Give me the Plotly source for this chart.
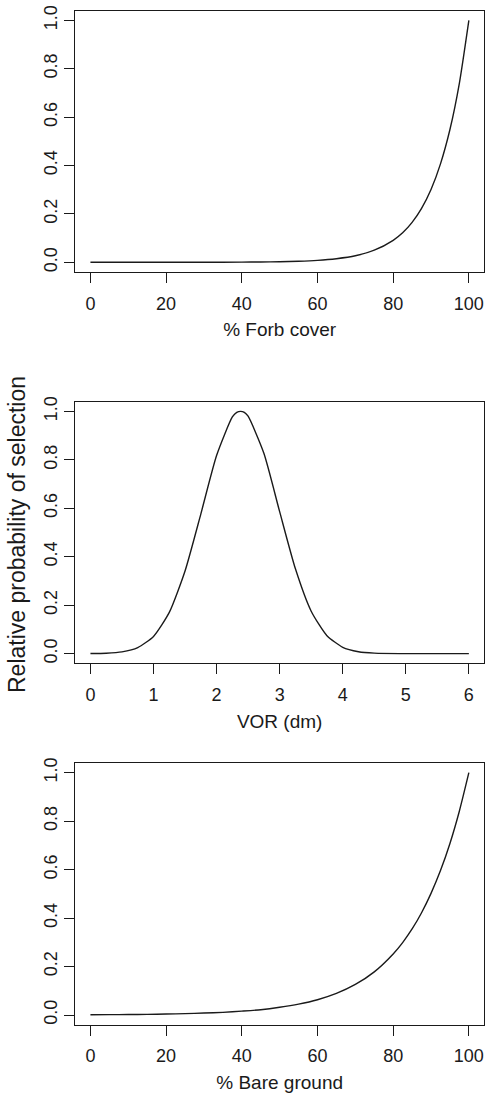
import plotly.graph_objects as go

# values
forb_x = [0, 10, 20, 30, 40, 45, 50, 55, 60, 65, 70, 75, 80, 82.5, 85, 87.5, 90, 92.5, 95, 97.5, 100]
forb_y = [0.0, 0.0, 0.0001, 0.0002, 0.0008, 0.0014, 0.0025, 0.0045, 0.0082, 0.015, 0.027,
          0.050, 0.091, 0.122, 0.165, 0.223, 0.301, 0.407, 0.549, 0.741, 1.0]

vor_x = [0, 0.25, 0.5, 0.75, 1.0, 1.25, 1.5, 1.75, 2.0, 2.25, 2.32, 2.38, 2.44, 2.5, 2.75,
         3.0, 3.25, 3.5, 3.75, 4.0, 4.25, 4.5, 5.0, 5.5, 6.0]
vor_y = [0.0004, 0.0018, 0.0074, 0.025, 0.071, 0.170, 0.341, 0.576, 0.818, 0.977, 0.996, 1.0,
         0.996, 0.980, 0.827, 0.586, 0.350, 0.175, 0.074, 0.026, 0.0078, 0.002, 0.0, 0.0, 0.0]

bare_x = [0, 5, 10, 15, 20, 25, 30, 35, 40, 45, 50, 55, 60, 65, 70, 75, 80, 82.5, 85, 87.5,
          90, 92.5, 95, 97.5, 100]
bare_y = [0.001, 0.0014, 0.002, 0.0028, 0.004, 0.0057, 0.008, 0.011, 0.016, 0.022, 0.032,
          0.045, 0.063, 0.089, 0.126, 0.178, 0.252, 0.299, 0.355, 0.422, 0.502, 0.596, 0.708,
          0.842, 1.0]

x_titles = ['% Forb cover', 'VOR (dm)', '% Bare ground']
y_title = 'Relative probability of selection'
y_ticks = [0.0, 0.2, 0.4, 0.6, 0.8, 1.0]

W, H = 487, 1094
FONT = 'Liberation Sans, Arial, Helvetica, sans-serif'
INK = '#1a1a1a'

# pixel boxes of the three plotting regions (top, bottom)
panels = [(10.7, 272.0), (401.7, 663.3), (763.0, 1024.7)]
x_left, x_right = 75.3, 484.0

fig = go.Figure()

series = [(forb_x, forb_y), (vor_x, vor_y), (bare_x, bare_y)]
x_setup = [
  dict(range=[-4, 104], tickvals=[0, 20, 40, 60, 80, 100]),
  dict(range=[-0.24, 6.24], tickvals=[0, 1, 2, 3, 4, 5, 6]),
  dict(range=[-4, 104], tickvals=[0, 20, 40, 60, 80, 100]),
]

for i, (xs, ys) in enumerate(series):
  n = '' if i == 0 else str(i + 1)
  fig.add_trace(go.Scatter(
    x=xs, y=ys, mode='lines',
    line=dict(color=INK, width=1.4, shape='spline', smoothing=0.6),
    xaxis='x' + n, yaxis='y' + n,
    showlegend=False, hoverinfo='skip'
  ))

  top, bottom = panels[i]
  common = dict(
    showline=True, mirror=True, linecolor=INK, linewidth=1,
    showgrid=False, zeroline=False, automargin=False,
    ticks='outside', ticklen=10, tickwidth=1, tickcolor=INK,
    tickfont=dict(family=FONT, size=18, color=INK),
  )
  fig.update_layout({
    'xaxis' + n: dict(
      **common, **x_setup[i],
      domain=[x_left / W, x_right / W],
      anchor='y' + n,
      ticklabelstandoff=5,
      title=dict(text=x_titles[i], standoff=10,
                 font=dict(family=FONT, size=19, color=INK)),
    ),
    'yaxis' + n: dict(
      **common,
      range=[-0.04, 1.04], tickvals=y_ticks, tickformat='.1f',
      tickangle=-90,
      domain=[1 - bottom / H, 1 - top / H],
      anchor='x' + n,
      ticklabelstandoff=0,
    ),
  })

# shared y title, as drawn once beside the middle panel
fig.add_annotation(
  text=y_title, textangle=-90,
  x=17 / W, y=1 - 535 / H, xref='paper', yref='paper',
  xanchor='center', yanchor='middle', showarrow=False,
  font=dict(family=FONT, size=23, color=INK)
)

fig.update_layout(
  width=W, height=H,
  margin=dict(l=0, r=0, t=0, b=0),
  paper_bgcolor='white', plot_bgcolor='white',
)

# drop the page's default body margin so the figure sits at the window corner
fig.write_html(
  "out.html",
  config={'displayModeBar': False},
  post_script="document.body.style.margin='0';"
)
